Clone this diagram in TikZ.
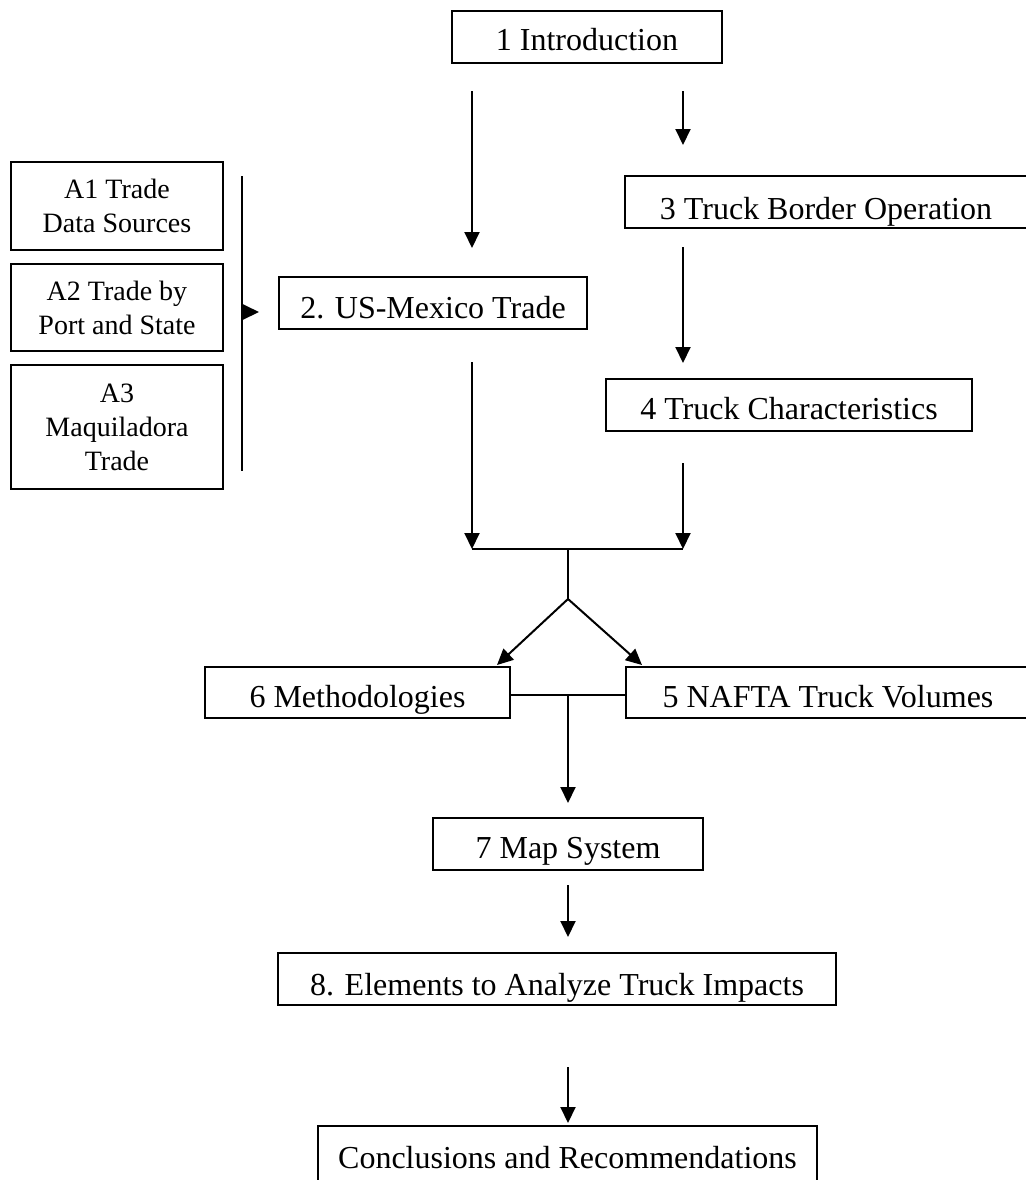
\documentclass[tikz,border=0pt]{standalone}
\usepackage{fontspec}
\setmainfont{Liberation Serif}
\usetikzlibrary{arrows.meta,calc}
\begin{document}
\begin{tikzpicture}[x=0.5pt,y=-0.5pt,
  box/.style={draw, line width=1pt, rectangle, inner sep=0pt, minimum height=26pt,
              text depth=0pt, text height=14pt,
              font=\fontsize{16}{18}\selectfont},
  abox/.style={draw, line width=1pt, rectangle, inner sep=0pt, minimum width=106pt,
               align=center, yshift=-1.5pt, font=\fontsize{14}{17}\selectfont},
  arr/.style={line width=1pt, -{Triangle[length=8pt,width=7.5pt]}},
  ln/.style={line width=1pt}]
\useasboundingbox (0,0) rectangle (1026,1180);
\clip (0,0) rectangle (1026,1180);
% nodes
\node[box, minimum width=135pt, text height=13.5pt] (intro) at (587,36.5) {1 Introduction};
\node[box, minimum width=201pt, text height=17pt] (b3) at (826,202) {3 Truck Border Operation};
\node[box, minimum width=183pt] (b4) at (789,405) {4 Truck Characteristics};
\node[box, minimum width=154pt, text height=15pt] (b2) at (433,303) {2. US-Mexico Trade};
\node[abox, minimum height=44pt] (a1) at (117,203) {A1 Trade\\Data Sources};
\node[abox, minimum height=43.5pt] (a2) at (117,304.5) {A2 Trade by\\Port and State};
\node[abox, minimum height=62pt] (a3) at (117,424) {A3\\Maquiladora\\Trade};
\node[box, minimum width=152.5pt, minimum height=25.5pt, text height=15pt] (b6) at (357.5,692.5) {6 Methodologies};
\node[box, minimum width=202pt, minimum height=25.5pt, text height=15pt] (b5) at (828,692.5) {5 NAFTA Truck Volumes};
\node[box, minimum width=135pt] (b7) at (568,844) {7 Map System};
\node[box, minimum width=279pt, text height=16pt] (b8) at (557,979) {8. Elements to Analyze Truck Impacts};
\node[box, minimum width=249.5pt, minimum height=28pt] (b9) at (567.5,1154) {Conclusions and Recommendations};
% connector points
\coordinate (p1s) at (472,91);  \coordinate (p1e) at (472,248);
\coordinate (p2s) at (683,91);  \coordinate (p2e) at (683,145);
\coordinate (p3s) at (683,247); \coordinate (p3e) at (683,363);
\coordinate (p4s) at (683,463); \coordinate (p4e) at (683,549);
\coordinate (p5s) at (472,362); \coordinate (p5e) at (472,549);
\coordinate (j1) at (568,549);  \coordinate (j2) at (568,599);
\coordinate (t6) at (497,665);  \coordinate (t5) at (642,665);
\coordinate (j3) at (568,695);  \coordinate (p7e) at (568,803);
\coordinate (p8s) at (568,885); \coordinate (p8e) at (568,937);
\coordinate (p9s) at (568,1067); \coordinate (p9e) at (568,1123);
\coordinate (vb1) at (242,176); \coordinate (vb2) at (242,471);
\coordinate (vbm) at (242,312);
% connectors
\draw[arr] (p1s) -- (p1e);
\draw[arr] (p2s) -- (p2e);
\draw[arr] (p3s) -- (p3e);
\draw[arr] (p4s) -- (p4e);
\draw[arr] (p5s) -- (p5e);
\draw[ln] (p5e) -- (p4e);
\draw[ln] (j1) -- (j2);
\draw[arr] (j2) -- (t6);
\draw[arr] (j2) -- (t5);
\draw[ln] (b6.east |- j3) -- (b5.west |- j3);
\draw[arr] (j3) -- (p7e);
\draw[arr] (p8s) -- (p8e);
\draw[arr] (p9s) -- (p9e);
\draw[ln] (vb1) -- (vb2);
\draw[arr] (vbm) -- ($(b2.west |- vbm)+(-19,0)$);
\end{tikzpicture}
\end{document}
